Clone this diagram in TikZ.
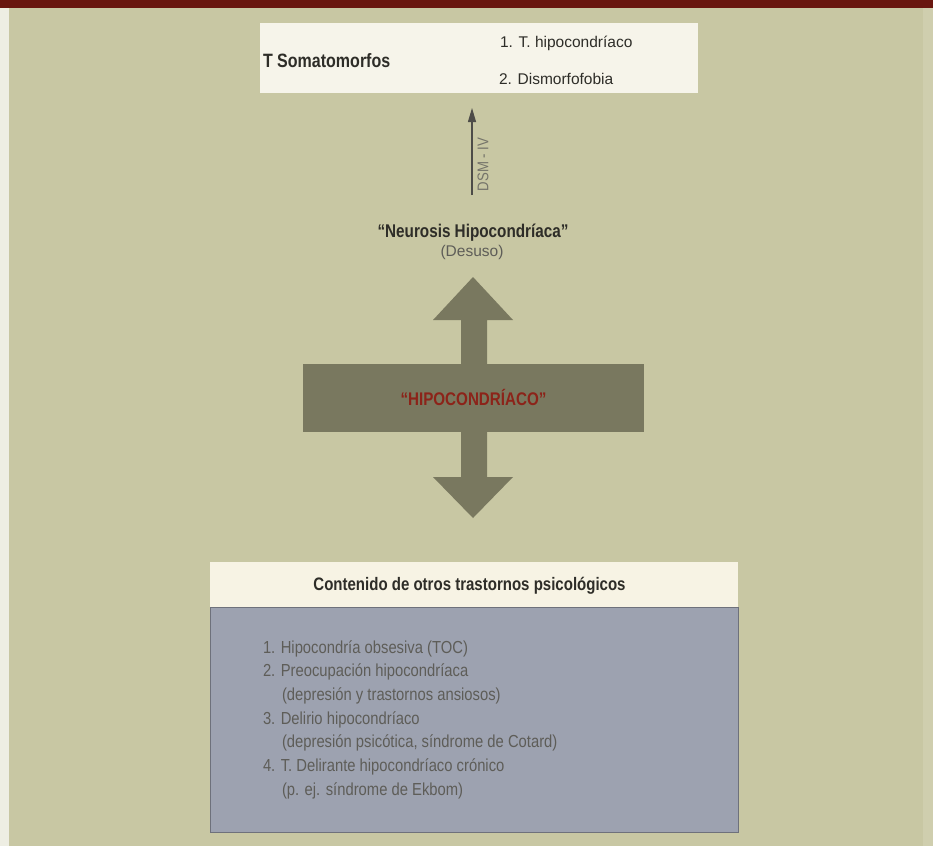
\documentclass[tikz,border=0pt]{standalone}
\usepackage{fontspec}
\setmainfont{Liberation Sans}
\newfontfamily\condfont{Liberation Sans}[FakeStretch=0.85]
\newfontfamily\narrowbold{Liberation Sans}[FakeStretch=0.83]
\usetikzlibrary{arrows.meta}

\definecolor{pagebg}{HTML}{C8C7A3}
\definecolor{bandred}{HTML}{69160F}
\definecolor{paper}{HTML}{F6F4EA}
\definecolor{headpaper}{HTML}{F7F3E4}
\definecolor{slate}{HTML}{9DA2B0}
\definecolor{olivearrow}{HTML}{79785F}
\definecolor{wordred}{HTML}{8C2319}
\definecolor{inkdark}{HTML}{2E2D28}
\definecolor{inkgray}{HTML}{5E5D58}
\definecolor{inklight}{HTML}{75746A}

\tikzset{
  panel/.style={draw=none, inner sep=0pt, outer sep=0pt},
  label/.style={inner sep=0pt, outer sep=0pt, text=inkdark},
  boldlabel/.style={label, font=\narrowbold\bfseries\fontsize{18.4}{21}\selectfont},
  itemtop/.style={label, font=\fontsize{15.5}{18}\selectfont},
  itemlist/.style={inner sep=0pt, outer sep=0pt, text=inkgray,
    font=\condfont\fontsize{17.4}{20}\selectfont},
  linkarrow/.style={draw=inkdark!85, line width=1.1pt,
    -{Triangle[length=14pt,width=8pt]}},
}

\begin{document}
\begin{tikzpicture}[x=1pt,y=-1pt]
  % page background and frame strips
  \useasboundingbox (0,0) rectangle (933,846);
  \fill[pagebg] (0,0) rectangle (933,846);
  \fill[white!70!pagebg] (0,0) rectangle (9,846);
  \fill[white!12!pagebg] (923,0) rectangle (933,846);
  \fill[bandred] (0,0) rectangle (933,8);

  % upper panel: somatoform disorders
  \node[panel, fill=paper, anchor=north west, minimum width=438pt, minimum height=70pt]
    (topbox) at (260,23) {};
  \node[boldlabel, font=\narrowbold\bfseries\fontsize{19.3}{22}\selectfont, anchor=base west]
    (soma) at (263,67) {T Somatomorfos};
  \node[itemtop, anchor=base west] (item1) at (500,47) {1. T. hipocondríaco};
  \node[itemtop, anchor=base west] (item2) at (499,84) {2. Dismorfofobia};

  % historical term
  \node[boldlabel, anchor=base] (neur) at (473,237) {“Neurosis Hipocondríaca”};
  \node[itemtop, text=inkgray, anchor=base] (desuso) at (472,256) {(Desuso)};

  % DSM-IV link up to the panel
  \coordinate (dsmfoot) at (472,195);
  \coordinate (dsmtip) at (472,108);
  \draw[linkarrow] (dsmfoot) -- (dsmtip)
    node[pos=0.35, sloped, below=5pt, inner sep=0pt, text=inklight,
         font=\condfont\fontsize{15.5}{18}\selectfont] (dsm) {DSM - IV};

  % central double arrow with the crossing bar
  \fill[olivearrow] (473,277) -- (513,320) -- (487,320) -- (487,477) -- (513,477)
    -- (473,518) -- (433,477) -- (461,477) -- (461,320) -- (433,320) -- cycle;
  \node[panel, fill=olivearrow, minimum width=341pt, minimum height=68pt]
    (hipobar) at (473.5,398) {};
  \node[inner sep=0pt, text=wordred, anchor=base,
        font=\narrowbold\bfseries\fontsize{18.3}{21}\selectfont] (hipo) at (473.5,405)
    {“HIPOCONDRÍACO”};

  % lower panel: other psychological disorders
  \node[panel, fill=headpaper, anchor=north west, minimum width=528pt, minimum height=45pt]
    (conthead) at (210,562) {};
  \node[panel, fill=slate, draw=black!30!slate, line width=0.6pt, anchor=north west,
        minimum width=528pt, minimum height=225pt]
    (contbody) at (210,607) {};
  \node[boldlabel, font=\narrowbold\bfseries\fontsize{18.1}{21}\selectfont, anchor=base]
    (contitle) at (469.5,590) {Contenido de otros trastornos psicológicos};

  \node[itemlist, anchor=base west] (l1) at (263,653.0) {1. Hipocondría obsesiva (TOC)};
  \node[itemlist, anchor=base west] (l2) at (263,676.7) {2. Preocupación hipocondríaca};
  \node[itemlist, anchor=base west] (l3) at (282,700.4) {(depresión y trastornos ansiosos)};
  \node[itemlist, anchor=base west] (l4) at (263,724.1) {3. Delirio hipocondríaco};
  \node[itemlist, anchor=base west] (l5) at (282,747.8) {(depresión psicótica, síndrome de Cotard)};
  \node[itemlist, anchor=base west] (l6) at (263,771.5) {4. T. Delirante hipocondríaco crónico};
  \node[itemlist, anchor=base west] (l7) at (282,795.2) {(p. ej. síndrome de Ekbom)};
\end{tikzpicture}
\end{document}
